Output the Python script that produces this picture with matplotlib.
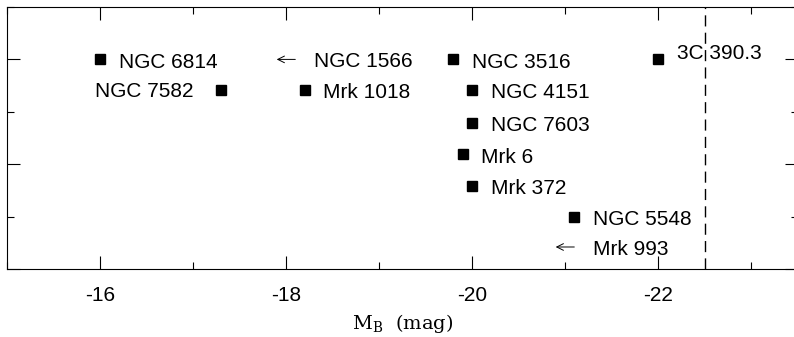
import matplotlib.pyplot as plt
from matplotlib.ticker import MultipleLocator, NullFormatter

plt.rcParams['font.family'] = ['Liberation Sans', 'DejaVu Sans']

# detections: name, M_B, row, label side
det_names = ['NGC 6814', 'NGC 7582', 'Mrk 1018', 'NGC 3516', 'NGC 4151',
             'NGC 7603', 'Mrk 6', 'Mrk 372', 'NGC 5548', '3C 390.3']
det_mb = [-16.0, -17.3, -18.2, -19.8, -20.0, -20.0, -19.9, -20.0, -21.1, -22.0]
det_y = [4.0, 3.42, 3.42, 4.0, 3.42, 2.79, 2.19, 1.58, 1.0, 4.0]
det_side = ['r', 'l', 'r', 'r', 'r', 'r', 'r', 'r', 'r', 'r']

# upper limits (arrows)
lim_names = ['NGC 1566', 'Mrk 993']
lim_mb = [-18.1, -21.1]
lim_y = [4.0, 0.42]

cut_mb = -22.5

fig = plt.figure(figsize=(7.94, 3.37), dpi=100)
ax = fig.add_axes([7 / 794, 1 - 269 / 337, 790.5 / 794, 262 / 337])

ax.plot(det_mb, det_y, 's', color='black', markersize=7.2, zorder=3)

for name, x, y, side in zip(det_names, det_mb, det_y, det_side):
    if side == 'l':
        ax.annotate(name, (x, y), xytext=(-20, -1), textcoords='offset points',
                    ha='right', va='center', fontsize=15)
    elif name == '3C 390.3':
        ax.annotate(name, (x, y), xytext=(13.5, 4), textcoords='offset points',
                    ha='left', va='center', fontsize=15)
    else:
        ax.annotate(name, (x, y), xytext=(13.5, -2), textcoords='offset points',
                    ha='left', va='center', fontsize=15)

for name, x, y in zip(lim_names, lim_mb, lim_y):
    ax.annotate('', xy=(x + 0.2, y), xytext=(x, y),
                arrowprops=dict(arrowstyle='->', lw=0.7, color='black',
                                shrinkA=0, shrinkB=0, mutation_scale=12))
    ax.annotate(name, (x, y), xytext=(13.5, -1.5), textcoords='offset points',
                ha='left', va='center', fontsize=15)

ax.axvline(cut_mb, color='black', lw=1.0, linestyle=(0, (8, 4.5)))

ax.set_xlim(-15, -23.5)
ax.set_ylim(0, 5)
ax.xaxis.set_major_locator(MultipleLocator(2))
ax.xaxis.set_minor_locator(MultipleLocator(1))
ax.yaxis.set_major_locator(MultipleLocator(2))
ax.yaxis.set_minor_locator(MultipleLocator(1))
ax.yaxis.set_major_formatter(NullFormatter())
ax.xaxis.set_major_formatter(lambda v, p: '%d' % v)
ax.tick_params(which='both', direction='in', top=True, right=True, width=0.8)
ax.tick_params(which='major', length=9.5, labelsize=15, pad=12)
ax.tick_params(which='minor', length=5)
for s in ax.spines.values():
    s.set_linewidth(0.8)

ax.set_xlabel(r'M$_\mathregular{B}$  (mag)', family='DejaVu Serif', fontsize=14,
              labelpad=5)

fig.savefig('out.png', dpi=100)
